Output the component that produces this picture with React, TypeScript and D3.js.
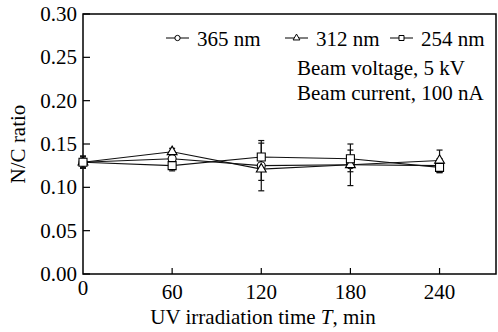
import React, { useEffect, useRef } from "react";
import * as d3 from "d3";

// irradiation time, min
const times = [0, 60, 120, 180, 240];

const seriesNames = ["365 nm", "312 nm", "254 nm"];
const n365 = [0.129, 0.133, 0.125, 0.126, 0.125];
const n312 = [0.129, 0.141, 0.121, 0.126, 0.131];
const n254 = [0.129, 0.125, 0.135, 0.133, 0.123];
const e365 = [0.007, 0.006, 0.029, 0.024, 0.008];
const e312 = [0.007, 0.004, 0.013, 0.008, 0.012];
const e254 = [0.006, 0.006, 0.016, 0.01, 0.006];

const xTicks = [0, 60, 120, 180, 240];
const yTicks = [0, 0.05, 0.1, 0.15, 0.2, 0.25, 0.3];
const notes = ["Beam voltage, 5 kV", "Beam current, 100 nA"];

const App: React.FC = () => {
  const svgRef = useRef<SVGSVGElement | null>(null);

  useEffect(() => {
    if (!svgRef.current) return;
    const svg = d3.select(svgRef.current);
    svg.selectAll("*").remove();

    const fs = 21;
    const left = 83, right = 496, top = 14, bottom = 274;

    const x = d3.scaleLinear().domain([0, 278]).range([left, right]);
    const y = d3.scaleLinear().domain([0, 0.3]).range([bottom, top]);

    const symbols = [d3.symbolCircle, d3.symbolTriangle, d3.symbolSquare];
    const sizes = [50, 42, 64];
    const series = [n365, n312, n254].map((vals, i) => ({
      name: seriesNames[i],
      pts: vals.map((v, j) => ({ t: times[j], v, e: [e365, e312, e254][i][j] })),
    }));

    const root = svg
      .append("g")
      .attr("font-family", "Liberation Serif, Tinos, Times New Roman, DejaVu Serif, serif")
      .attr("font-size", fs);

    // frame
    root
      .append("rect")
      .attr("x", left)
      .attr("y", top)
      .attr("width", right - left)
      .attr("height", bottom - top)
      .attr("fill", "none")
      .attr("stroke", "#000")
      .attr("stroke-width", 1.5);

    // y ticks (inward)
    const yg = root.append("g");
    yg.selectAll("line")
      .data(yTicks)
      .enter()
      .append("line")
      .attr("x1", left)
      .attr("x2", left + 7)
      .attr("y1", (d) => y(d))
      .attr("y2", (d) => y(d))
      .attr("stroke", "#000")
      .attr("stroke-width", 1.2);
    yg.selectAll("text")
      .data(yTicks)
      .enter()
      .append("text")
      .attr("x", left - 6)
      .attr("y", (d) => y(d) + 7)
      .attr("text-anchor", "end")
      .text((d) => d.toFixed(2));

    // x ticks (inward)
    const xg = root.append("g");
    xg.selectAll("line")
      .data(xTicks.filter((d) => d > 0))
      .enter()
      .append("line")
      .attr("x1", (d) => x(d))
      .attr("x2", (d) => x(d))
      .attr("y1", bottom)
      .attr("y2", bottom - 6)
      .attr("stroke", "#000")
      .attr("stroke-width", 1.2);
    xg.selectAll("text")
      .data(xTicks)
      .enter()
      .append("text")
      .attr("x", (d) => x(d))
      .attr("y", (d) => (d === 0 ? 295 : 299))
      .attr("text-anchor", "middle")
      .text((d) => String(d));

    // axis titles
    const xt = root
      .append("text")
      .attr("x", 263)
      .attr("y", 324)
      .attr("text-anchor", "middle");
    xt.append("tspan").text("UV irradiation time ");
    xt.append("tspan").attr("font-style", "italic").text("T");
    xt.append("tspan").text(", min");

    root
      .append("text")
      .attr("transform", "translate(25,144) rotate(-90)")
      .attr("text-anchor", "middle")
      .text("N/C ratio");

    // lines
    const line = d3
      .line<{ t: number; v: number }>()
      .x((d) => x(d.t))
      .y((d) => y(d.v));
    series.forEach((s) => {
      root
        .append("path")
        .attr("d", line(s.pts))
        .attr("fill", "none")
        .attr("stroke", "#111")
        .attr("stroke-width", 1.1);
    });

    // error bars
    series.forEach((s) => {
      const g = root.append("g").attr("stroke", "#111").attr("stroke-width", 1.2);
      s.pts.forEach((p) => {
        const cx = x(p.t);
        g.append("line").attr("x1", cx).attr("x2", cx).attr("y1", y(p.v - p.e)).attr("y2", y(p.v + p.e));
        [p.v - p.e, p.v + p.e].forEach((v) => {
          g.append("line").attr("x1", cx - 3).attr("x2", cx + 3).attr("y1", y(v)).attr("y2", y(v));
        });
      });
    });

    // markers
    series.forEach((s, i) => {
      root
        .append("g")
        .selectAll("path")
        .data(s.pts)
        .enter()
        .append("path")
        .attr("d", d3.symbol(symbols[i], sizes[i])())
        .attr("transform", (d) => `translate(${x(d.t)},${y(d.v)})`)
        .attr("fill", "#fff")
        .attr("stroke", "#000")
        .attr("stroke-width", 1.1);
    });

    // legend
    const legX = [166, 285, 390];
    const legY = 38;
    seriesNames.forEach((name, i) => {
      const g = root.append("g");
      g.append("line")
        .attr("x1", legX[i])
        .attr("x2", legX[i] + 23)
        .attr("y1", legY)
        .attr("y2", legY)
        .attr("stroke", "#000")
        .attr("stroke-width", 1);
      g.append("path")
        .attr("d", d3.symbol(symbols[i], [22, 20, 25][i])())
        .attr("transform", `translate(${legX[i] + 11.5},${legY})`)
        .attr("fill", "#fff")
        .attr("stroke", "#000")
        .attr("stroke-width", 1);
      g.append("text")
        .attr("x", legX[i] + 31)
        .attr("y", 46)
        .text(name);
    });

    root
      .append("g")
      .selectAll("text")
      .data(notes)
      .enter()
      .append("text")
      .attr("x", 297)
      .attr("y", (d, i) => 75 + i * 25)
      .text((d) => d);
  }, []);

  return (
    <svg
      ref={svgRef}
      width="498"
      height="332"
      style={{ position: "absolute", left: 0, top: 0, background: "#fff" }}
    ></svg>
  );
};

export default App;
